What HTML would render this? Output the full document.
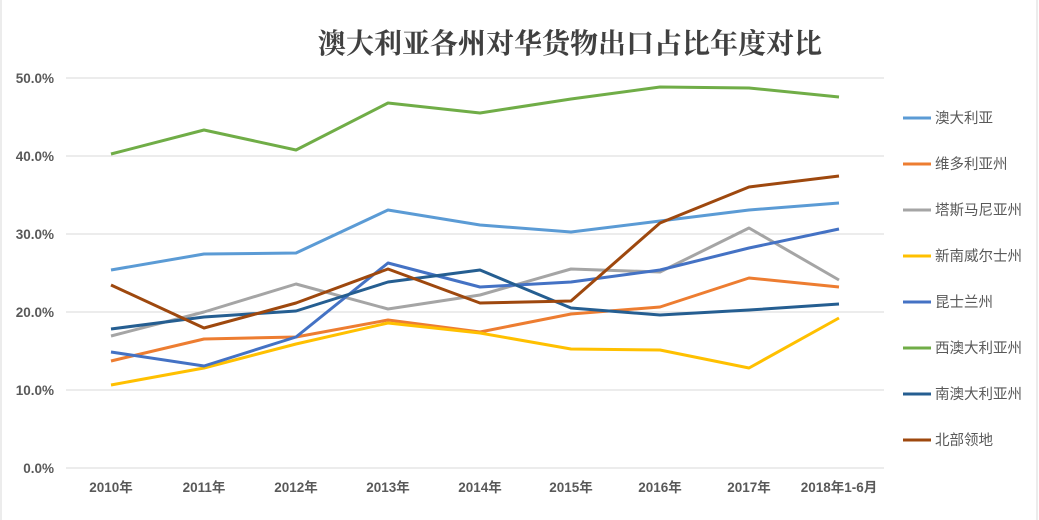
<!DOCTYPE html>
<html><head><meta charset="utf-8"><style>
body{margin:0;background:#fff}
svg{display:block}
</style></head><body>
<svg width="1039" height="520" viewBox="0 0 1039 520" xmlns="http://www.w3.org/2000/svg">
<rect x="0" y="0" width="1039" height="520" fill="#fff"/>
<line x1="1" y1="0" x2="1" y2="520" stroke="#d9d9d9"/>
<line x1="1037" y1="0" x2="1037" y2="520" stroke="#d9d9d9"/>
<text x="570" y="53" text-anchor="middle" font-family="'Liberation Serif','Noto Serif CJK SC',serif" font-weight="bold" font-size="28" fill="#404040">澳大利亚各州对华货物出口占比年度对比</text>
<g stroke="#d9d9d9" stroke-width="1">
<line x1="66" y1="78" x2="884" y2="78"/><line x1="66" y1="156" x2="884" y2="156"/>
<line x1="66" y1="234" x2="884" y2="234"/><line x1="66" y1="312" x2="884" y2="312"/>
<line x1="66" y1="390" x2="884" y2="390"/><line x1="66" y1="468" x2="884" y2="468"/>
</g>
<g font-family="'Liberation Sans','Noto Sans CJK SC',sans-serif" font-weight="bold" font-size="13.5" fill="#595959" text-anchor="end">
<text x="54" y="83">50.0%</text><text x="54" y="161">40.0%</text><text x="54" y="239">30.0%</text>
<text x="54" y="317">20.0%</text><text x="54" y="395">10.0%</text><text x="54" y="473">0.0%</text>
</g>
<g font-family="'Liberation Sans','Noto Sans CJK SC',sans-serif" font-weight="bold" font-size="13.5" fill="#595959" text-anchor="middle">
<text x="111" y="492">2010年</text><text x="204" y="492">2011年</text><text x="296" y="492">2012年</text>
<text x="388" y="492">2013年</text><text x="480" y="492">2014年</text><text x="571" y="492">2015年</text>
<text x="660" y="492">2016年</text><text x="749" y="492">2017年</text><text x="839" y="492">2018年1-6月</text>
</g>
<g fill="none" stroke-width="3" stroke-linejoin="round">
<polyline stroke="#70ad47" points="111,154 204,130 296,150 388,103 480,113 571,99 660,87 749,88 839,97"/>
<polyline stroke="#5b9bd5" points="111,270 204,254 296,253 388,210 480,225 571,232 660,221 749,210 839,203"/>
<polyline stroke="#ed7d31" points="111,361 204,339 296,337 388,320 480,332 571,314 660,307 749,278 839,287"/>
<polyline stroke="#a5a5a5" points="111,336 204,312 296,284 388,309 480,295 571,269 660,272 749,228 839,280"/>
<polyline stroke="#ffc000" points="111,385 204,368 296,344 388,323 480,333 571,349 660,350 749,368 839,318"/>
<polyline stroke="#4472c4" points="111,352 204,366 296,337 388,263 480,287 571,282 660,270 749,248 839,229"/>
<polyline stroke="#255e91" points="111,329 204,317 296,311 388,282 480,270 571,308 660,315 749,310 839,304"/>
<polyline stroke="#9e480e" points="111,285 204,328 296,303 388,269 480,303 571,301 660,223 749,187 839,176"/>
</g>
<g stroke-width="3">
<line x1="903" y1="118" x2="931" y2="118" stroke="#5b9bd5"/>
<line x1="903" y1="164" x2="931" y2="164" stroke="#ed7d31"/>
<line x1="903" y1="210" x2="931" y2="210" stroke="#a5a5a5"/>
<line x1="903" y1="256" x2="931" y2="256" stroke="#ffc000"/>
<line x1="903" y1="302" x2="931" y2="302" stroke="#4472c4"/>
<line x1="903" y1="348" x2="931" y2="348" stroke="#70ad47"/>
<line x1="903" y1="394" x2="931" y2="394" stroke="#255e91"/>
<line x1="903" y1="440" x2="931" y2="440" stroke="#9e480e"/>
</g>
<g font-family="'Liberation Sans','Noto Sans CJK SC',sans-serif" font-size="14.5" fill="#595959">
<text x="935" y="123">澳大利亚</text><text x="935" y="169">维多利亚州</text><text x="935" y="215">塔斯马尼亚州</text>
<text x="935" y="261">新南威尔士州</text><text x="935" y="307">昆士兰州</text><text x="935" y="353">西澳大利亚州</text>
<text x="935" y="399">南澳大利亚州</text><text x="935" y="445">北部领地</text>
</g>
</svg>
</body></html>
